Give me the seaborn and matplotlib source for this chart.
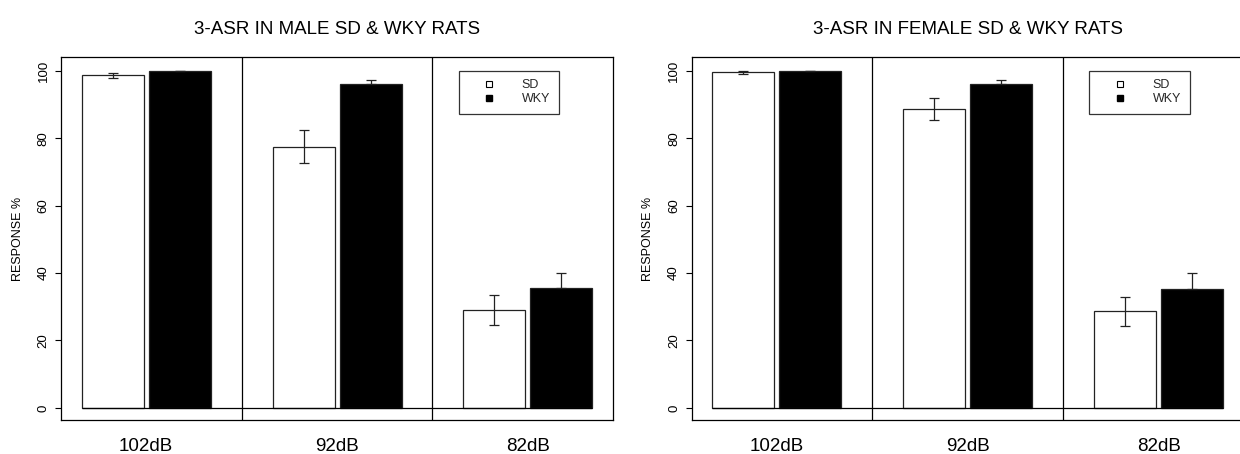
import numpy as np
import pandas as pd
import matplotlib
matplotlib.use("Agg")
import matplotlib.pyplot as plt
from matplotlib.lines import Line2D
import seaborn as sns

# ---- data ----
levels = ["102dB", "92dB", "82dB"]
strains = ["SD", "WKY"]
titles = ["3-ASR IN MALE SD & WKY RATS", "3-ASR IN FEMALE SD & WKY RATS"]

male_sd = [98.7, 77.5, 29.0]
male_sd_err = [0.7, 5.0, 4.5]
male_wky = [100.0, 96.0, 35.5]
male_wky_err = [0.0, 1.3, 4.4]

female_sd = [99.5, 88.7, 28.6]
female_sd_err = [0.5, 3.2, 4.3]
female_wky = [100.0, 96.1, 35.4]
female_wky_err = [0.0, 1.3, 4.5]

yticks = [0, 20, 40, 60, 80, 100]

sns.set_theme(style="white")
plt.rcParams["font.family"] = ["Liberation Sans", "DejaVu Sans"]

fig = plt.figure(figsize=(12.4, 4.54), dpi=100)
W, H = 1240, 454
ax_w = 551.7 / W
ax_b = (454 - 420.3) / H
ax_h = 363.0 / H
axes = [fig.add_axes([61 / W, ax_b, ax_w, ax_h]),
        fig.add_axes([691.7 / W, ax_b, ax_w, ax_h])]

panels = [
    (male_sd, male_sd_err, male_wky, male_wky_err),
    (female_sd, female_sd_err, female_wky, female_wky_err),
]

for ax, title, (sd, sde, wk, wke) in zip(axes, titles, panels):
    df = pd.DataFrame({
        "level": levels * 2,
        "strain": ["SD"] * 3 + ["WKY"] * 3,
        "resp": sd + wk,
        "err": sde + wke,
    })
    sns.barplot(data=df, x="level", y="resp", hue="strain", order=levels,
                hue_order=strains, palette={"SD": "white", "WKY": "black"},
                edgecolor="#222222", linewidth=0.9, errorbar=None,
                width=0.702, gap=0.074, legend=False, ax=ax, saturation=1)
    bar_conts = list(ax.containers)
    allp = [p for c in bar_conts for p in c.patches]
    # error bars at bar centres (lower half of WKY bars is hidden in the black fill)
    for cont, s in zip(bar_conts, strains):
        sub = df[df.strain == s].set_index("level").loc[levels]
        xs = [p.get_x() + p.get_width() / 2 for p in cont.patches]
        e = sub["err"].values
        lower = e if s == "SD" else np.zeros_like(e)
        ax.errorbar(xs, sub["resp"].values, yerr=[lower, e], fmt="none",
                    ecolor="#222222", elinewidth=0.9, capsize=3.3, capthick=0.9,
                    zorder=5)
    # baseline across the bars
    x0 = min(p.get_x() for p in allp)
    x1 = max(p.get_x() + p.get_width() for p in allp)
    ax.hlines(0, x0, x1, color="black", lw=0.9, zorder=4)
    # group separators
    for xv in [0.5, 1.5]:
        ax.axvline(xv, color="black", lw=0.9)

    ax.set_xlim(-0.446, 2.444)
    ax.set_ylim(-3.7, 104)
    ax.set_yticks(yticks)
    ax.set_yticklabels([str(t) for t in yticks], rotation=90, va="center",
                       fontsize=9.5)
    ax.tick_params(axis="y", direction="out", length=4.3, width=0.8,
                   pad=4, left=True, colors="black")
    ax.tick_params(axis="x", length=0, pad=13, labelsize=13.5, colors="black")
    ax.set_xlabel("")
    ax.set_ylabel("RESPONSE %", fontsize=9, labelpad=10, color="black")
    ax.set_title(title, fontsize=13.5, pad=17, color="black")
    for sp in ax.spines.values():
        sp.set_visible(True)
        sp.set_color("black")
        sp.set_linewidth(0.9)

    handles = [
        Line2D([], [], ls="none", marker="s", markersize=4.0,
               markerfacecolor="white", markeredgecolor="black",
               markeredgewidth=0.8),
        Line2D([], [], ls="none", marker="s", markersize=4.0,
               markerfacecolor="black", markeredgecolor="black"),
    ]
    leg = ax.legend(handles, strains, loc="upper left",
                    bbox_to_anchor=(0.721, 0.963), fontsize=9,
                    frameon=True, fancybox=False, borderpad=0.7,
                    handlelength=3.5, handletextpad=0.84, labelspacing=0.15,
                    borderaxespad=0)
    leg.get_frame().set_edgecolor("black")
    leg.get_frame().set_linewidth(0.9)

fig.savefig("out.png", dpi=100)
